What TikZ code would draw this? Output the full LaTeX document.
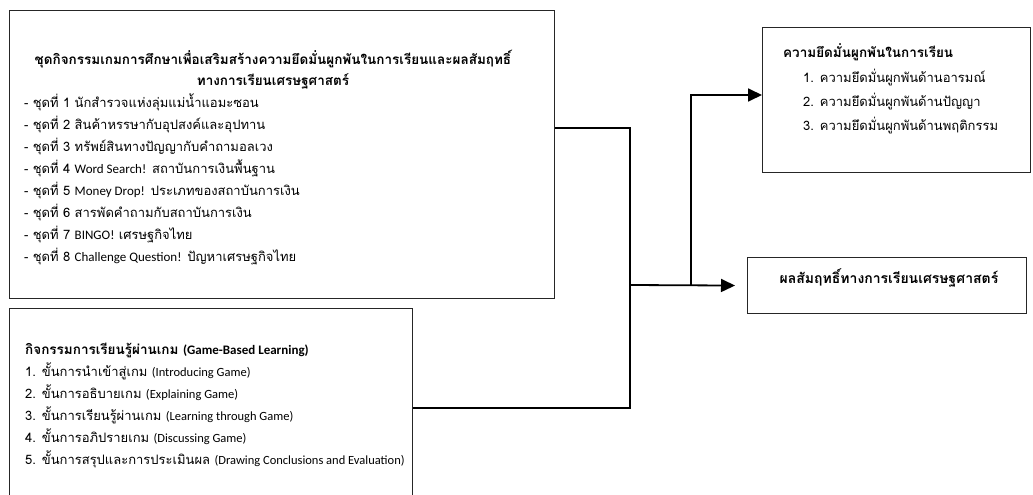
\documentclass[tikz,border=0pt]{standalone}
\usepackage{fontspec}
\setmainfont[Script=Thai]{Loma}
\newfontfamily\latf{Carlito}
\newcommand{\lw}[1]{{\latf\fontsize{13}{15}\selectfont #1}}
\newcommand{\lws}[1]{{\latf\fontsize{12.5}{14}\selectfont #1}}
\newcommand{\lwb}[1]{{\latf\fontsize{13}{15}\selectfont\bfseries #1}}
\usetikzlibrary{arrows.meta,calc}
\tikzset{
  box/.style={draw=black!85, line width=1.2pt, anchor=north west, inner sep=0pt},
  conn/.style={draw=black, line width=1.8pt},
  arr/.style={conn, -{Triangle[length=14pt,width=13pt]}},
  txt/.style={anchor=base west, inner sep=0pt, font=\fontsize{13}{15}\selectfont},
  btxt/.style={txt, font=\fontsize{13.5}{15}\selectfont\bfseries},
}
\begin{document}
\begin{tikzpicture}[x=1pt,y=-1pt]
\useasboundingbox (0,0) rectangle (1033,495);
\fill[white] (0,0) rectangle (1033,495);
\clip (0,0) rectangle (1033,495);
% boxes
\node[box, minimum width=545pt, minimum height=288pt] (b1) at (9,10) {};
\node[box, minimum width=403pt, minimum height=200pt] (b2) at (9,308) {};
\node[box, minimum width=268pt, minimum height=145pt] (b3) at (762,27) {};
\node[box, minimum width=279pt, minimum height=56pt] (b4) at (747,257) {};
% box 1 text
\node[btxt, anchor=base] (t1a) at (273,64) {ชุดกิจกรรมเกมการศึกษาเพื่อเสริมสร้างความยึดมั่นผูกพันในการเรียนและผลสัมฤทธิ์};
\node[btxt, anchor=base] (t1b) at (273,85) {ทางการเรียนเศรษฐศาสตร์};
\node[txt] (i1) at (24,107) {- ชุดที่ 1 นักสำรวจแห่งลุ่มแม่น้ำแอมะซอน};
\node[txt] (i2) at (24,129) {- ชุดที่ 2 สินค้าหรรษากับอุปสงค์และอุปทาน};
\node[txt] (i3) at (24,151) {- ชุดที่ 3 ทรัพย์สินทางปัญญากับคำถามอลเวง};
\node[txt] (i4) at (24,173) {- ชุดที่ 4 \lw{Word Search!} สถาบันการเงินพื้นฐาน};
\node[txt] (i5) at (24,195) {- ชุดที่ 5 \lw{Money Drop!} ประเภทของสถาบันการเงิน};
\node[txt] (i6) at (24,217) {- ชุดที่ 6 สารพัดคำถามกับสถาบันการเงิน};
\node[txt] (i7) at (24,239) {- ชุดที่ 7 \lw{BINGO!} เศรษฐกิจไทย};
\node[txt] (i8) at (24,261) {- ชุดที่ 8 \lw{Challenge Question!} ปัญหาเศรษฐกิจไทย};
% box 2 text
\node[btxt] (g0) at (25,354) {กิจกรรมการเรียนรู้ผ่านเกม \lwb{(Game-Based Learning)}};
\node[txt] (g1) at (25,376) {1. ขั้นการนำเข้าสู่เกม \lws{(Introducing Game)}};
\node[txt] (g2) at (25,398) {2. ขั้นการอธิบายเกม \lws{(Explaining Game)}};
\node[txt] (g3) at (25,420) {3. ขั้นการเรียนรู้ผ่านเกม \lws{(Learning through Game)}};
\node[txt] (g4) at (25,442) {4. ขั้นการอภิปรายเกม \lws{(Discussing Game)}};
\node[txt] (g5) at (25,464) {5. ขั้นการสรุปและการประเมินผล \lws{(Drawing Conclusions and Evaluation)}};
% box 3 text
\node[btxt] (e0) at (783,58) {ความยึดมั่นผูกพันในการเรียน};
\node[txt] (e1) at (803,82) {1. ความยึดมั่นผูกพันด้านอารมณ์};
\node[txt] (e2) at (803,106) {2. ความยึดมั่นผูกพันด้านปัญญา};
\node[txt] (e3) at (803,130) {3. ความยึดมั่นผูกพันด้านพฤติกรรม};
% box 4 text
\node[btxt, anchor=base, font=\fontsize{14}{16}\selectfont\bfseries] (o0) at (889,283) {ผลสัมฤทธิ์ทางการเรียนเศรษฐศาสตร์};
% connectors
\coordinate (jt) at (630,128);
\coordinate (jb) at (630,408);
\coordinate (jm) at (630,285);
\coordinate (br) at (691,285);
\coordinate (bt) at (691,95);
\draw[conn] (b1.east |- jt) -- (jt) -- (jb) -- (b2.east |- jb);
\draw[arr, shorten >=12pt] (jm) -- (b4.west);
\draw[arr] (br) -- (bt) -- (b3.west |- bt);
\end{tikzpicture}
\end{document}
